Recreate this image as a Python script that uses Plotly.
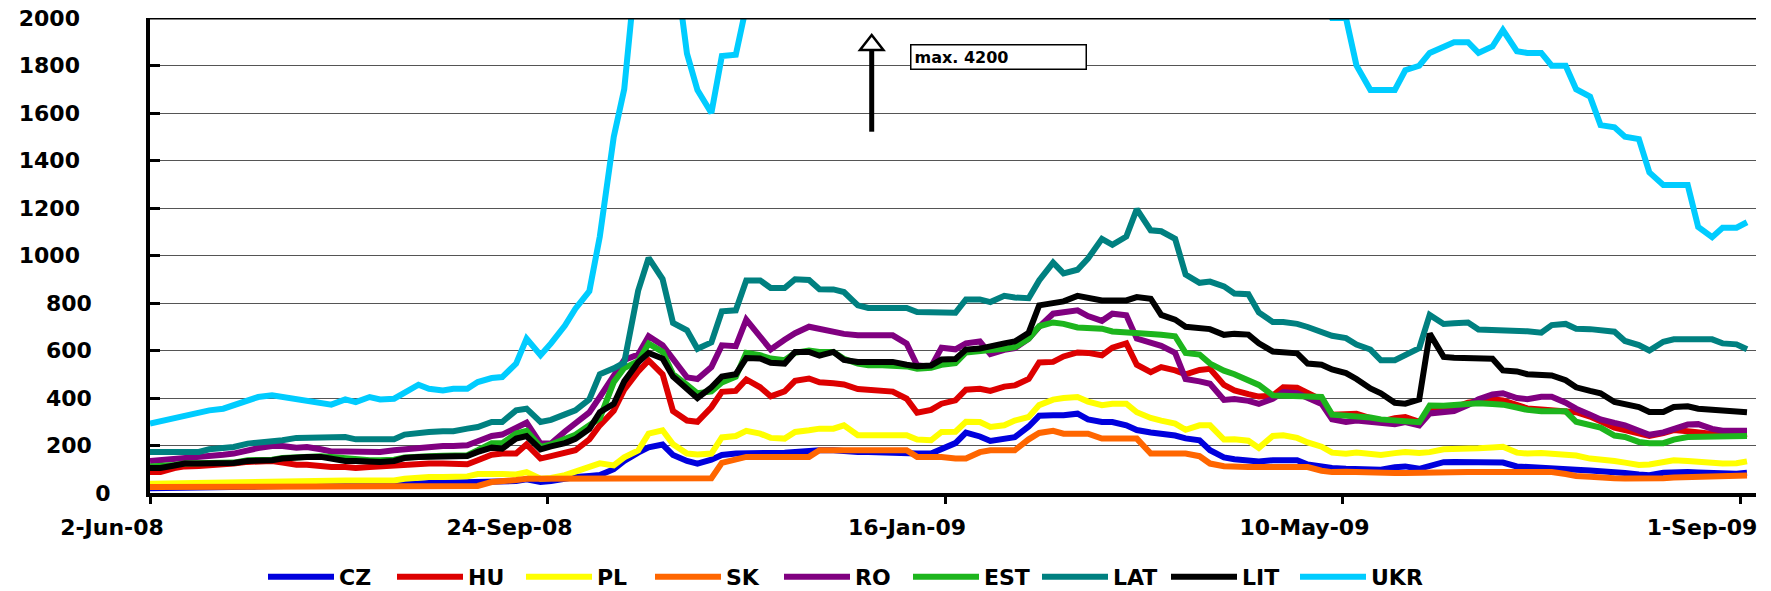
import plotly.graph_objects as go

FONT = "DejaVu Sans"

# Observation dates (Mondays and Thursdays)
dates = [
"2008-06-02","2008-06-05","2008-06-09","2008-06-12","2008-06-16","2008-06-19","2008-06-23","2008-06-26","2008-06-30","2008-07-03",
"2008-07-07","2008-07-10","2008-07-14","2008-07-17","2008-07-21","2008-07-24","2008-07-28","2008-07-31","2008-08-04","2008-08-07",
"2008-08-11","2008-08-14","2008-08-18","2008-08-21","2008-08-25","2008-08-28","2008-09-01","2008-09-04","2008-09-08","2008-09-11",
"2008-09-15","2008-09-18","2008-09-22","2008-09-25","2008-09-29","2008-10-02","2008-10-06","2008-10-09","2008-10-13","2008-10-16",
"2008-10-20","2008-10-23","2008-10-27","2008-10-30","2008-11-03","2008-11-06","2008-11-10","2008-11-13","2008-11-17","2008-11-20",
"2008-11-24","2008-11-27","2008-12-01","2008-12-04","2008-12-08","2008-12-11","2008-12-15","2008-12-18","2008-12-22","2008-12-25",
"2008-12-29","2009-01-01","2009-01-05","2009-01-08","2009-01-12","2009-01-15","2009-01-19","2009-01-22","2009-01-26","2009-01-29",
"2009-02-02","2009-02-05","2009-02-09","2009-02-12","2009-02-16","2009-02-19","2009-02-23","2009-02-26","2009-03-02","2009-03-05",
"2009-03-09","2009-03-12","2009-03-16","2009-03-19","2009-03-23","2009-03-26","2009-03-30","2009-04-02","2009-04-06","2009-04-09",
"2009-04-13","2009-04-16","2009-04-20","2009-04-23","2009-04-27","2009-04-30","2009-05-04","2009-05-07","2009-05-11","2009-05-14",
"2009-05-18","2009-05-21","2009-05-25","2009-05-28","2009-06-01","2009-06-04","2009-06-08","2009-06-11","2009-06-15","2009-06-18",
"2009-06-22","2009-06-25","2009-06-29","2009-07-02","2009-07-06","2009-07-09","2009-07-13","2009-07-16","2009-07-20","2009-07-23",
"2009-07-27","2009-07-30","2009-08-03","2009-08-06","2009-08-10","2009-08-13","2009-08-17","2009-08-20","2009-08-24","2009-08-27",
"2009-08-31","2009-09-03"]

CZ = [20,20, 22,22, 23,24, 25,25, 26,27,
      28,28, 29,30, 30,30, 31,31, 32,32,
      33,35, 40,42, 43,43, 44,44, 45,48,
      50,58, 46,50, 62,67, 72,76, 100,135,
      170,192, 204,160, 135,124, 140,160, 166,166,
      166,166, 170,173, 180,180, 180,176, 173,173,
      170,170, 166,166, 166,185, 210,254, 238,219,
      231,235, 280,325, 327,327, 334,310, 299,299,
      285,265, 255,250, 242,230, 222,180, 150,142,
      138,133, 138,138, 138,120, 110,105, 102,100,
      96,98, 108,112, 102,115, 130,131, 131,131,
      133,128, 112,110, 109,109, 104,98, 95,90,
      87,84, 78,75, 85,88, 88,86, 82,81,
      81,85]

HU = [88,88, 105,112, 114,116, 120,124, 131,135,
      135,128, 119,119, 112,109, 109,105, 109,112,
      116,119, 124,124, 124,124, 121,138, 161,166,
      166,205, 145,155, 168,180, 226,285, 346,435,
      512,558, 500,345, 305,300, 361,426, 430,478,
      445,407, 428,472, 482,466, 462,457, 438,434,
      430,427, 397,338, 350,376, 390,435, 439,430,
      448,453, 480,550, 552,575, 592,590, 580,612,
      630,540, 509,530, 516,500, 518,523, 455,432,
      416,406, 410,445, 443,420, 392,330, 330,334,
      315,300, 315,320, 300,345, 355,360, 380,385,
      395,390, 370,356, 352,350, 348,340, 322,300,
      275,265, 250,240, 252,265, 260,255, 245,244,
      243,248]

PL = [39,40, 41,42, 43,44, 45,46, 49,49,
      50,51, 52,52, 53,53, 53,53, 53,53,
      53,60, 66,67, 67,68, 70,80, 83,80,
      78,88, 60,63, 75,90, 115,125, 116,150,
      179,250, 264,205, 166,162, 166,234, 240,262,
      250,232, 229,257, 264,271, 271,285, 243,243,
      243,243, 243,225, 222,257, 258,300, 299,278,
      285,305, 320,370, 393,400, 404,385, 370,376,
      376,340, 316,305, 292,266, 285,285, 225,226,
      220,190, 240,243, 232,213, 195,170, 165,170,
      165,160, 168,173, 168,172, 184,184, 184,188,
      192,195, 170,166, 168,165, 160,158, 145,142,
      135,128, 118,120, 131,138, 135,130, 124,124,
      125,133]

SK = [25,25, 25,25, 25,25, 25,25, 25,25,
      25,25, 25,25, 25,25, 25,25, 25,25,
      25,25, 25,25, 25,25, 25,30, 46,48,
      55,60, 60,60, 60,60, 60,60, 60,60,
      60,60, 60,60, 60,60, 62,127, 140,152,
      152,152, 152,152, 152,180, 180,180, 180,180,
      180,180, 180,152, 152,152, 145,145, 172,180,
      180,180, 226,253, 262,250, 250,250, 229,229,
      229,229, 166,166, 166,166, 155,124, 113,109,
      109,109, 109,109, 109,109, 94,88, 90,88,
      84,82, 84,84, 86,86, 87,88, 88,88,
      88,88, 88,88, 88,88, 80,72, 68,64,
      62,61, 60,60, 62,65, 66,67, 70,70,
      72,74]

RO = [135,138, 145,149, 152,152, 161,166, 180,189,
      198,198, 191,194, 184,175, 175,175, 175,173,
      180,184, 194,198, 198,198, 201,218, 240,246,
      271,296, 208,208, 259,290, 339,404, 498,560,
      583,660, 622,566, 487,480, 530,622, 618,730,
      656,604, 645,673, 700,690, 680,670, 664,664,
      664,664, 629,538, 531,612, 605,630, 638,585,
      603,610, 650,700, 755,762, 769,745, 725,755,
      748,650, 632,620, 590,480, 470,460, 392,396,
      388,375, 397,425, 420,403, 375,310, 299,305,
      300,295, 290,299, 285,335, 344,345, 370,395,
      415,420, 400,395, 405,405, 380,355, 330,310,
      295,285, 262,245, 255,270, 288,290, 270,262,
      260,262]

EST = [112,112, 118,124, 124,124, 126,128, 138,138,
       140,147, 152,152, 155,152, 145,140, 138,138,
       140,150, 155,155, 157,157, 159,180, 210,210,
       250,262, 194,204, 225,245, 285,315, 467,526,
       555,629, 594,500, 455,420, 428,465, 490,590,
       580,566, 559,590, 600,594, 594,565, 545,538,
       538,538, 533,523, 527,540, 547,592, 601,602,
       607,614, 650,702, 718,712, 697,693, 692,680,
       674,672, 669,666, 660,590, 583,545, 515,500,
       478,455, 411,410, 406,404, 404,330, 327,325,
       318,310, 302,302, 298,368, 367,370, 378,378,
       375,372, 360,350, 344,344, 344,300, 285,275,
       242,236, 215,210, 210,225, 236,236, 236,237,
       238,240]

LAT = [173,173, 173,177, 173,184, 189,194, 208,212,
       212,222, 232,234, 236,236, 236,226, 226,226,
       226,246, 254,257, 260,260, 271,278, 299,299,
       348,355, 299,308, 331,348, 394,500, 525,549,
       852,990, 901,716, 685,607, 634,765, 769,895,
       895,863, 863,900, 897,858, 857,846, 790,779,
       779,779, 779,762, 760,760, 759,815, 815,804,
       830,823, 820,895, 970,925, 940,987, 1070,1045,
       1080,1195, 1106,1102, 1070,920, 885,890, 870,840,
       837,760, 720,720, 712,699, 676,662, 652,625,
       604,559, 559,580, 610,750, 712,715, 718,688,
       687,686, 685,681, 675,707, 712,692, 690,686,
       679,640, 623,600, 637,647, 647,647, 647,630,
       626,605]

LIT = [105,105, 116,124, 124,124, 124,126, 135,135,
       138,145, 152,152, 152,145, 135,135, 131,131,
       135,147, 152,152, 154,154, 156,173, 191,187,
       229,240, 184,196, 210,228, 270,340, 375,470,
       550,590, 566,490, 435,400, 445,490, 500,568,
       566,548, 545,594, 594,578, 594,560, 552,552,
       552,552, 540,534, 537,562, 564,604, 608,615,
       630,638, 675,790, 797,807, 830,823, 811,811,
       811,825, 818,750, 730,700, 695,690, 666,670,
       667,630, 596,593, 588,545, 540,520, 505,480,
       440,420, 380,376, 394,671, 573,570, 568,568,
       565,516, 512,500, 495,495, 475,445, 430,420,
       383,376, 362,341, 341,362, 365,355, 350,345,
       343,340]

UKR = [292,302, 320,327, 341,348, 355,369, 387,404,
       411,404, 394,386, 376,372, 394,383, 404,394,
       397,425, 456,439, 432,439, 439,467, 484,488,
       545,650, 580,630, 705,776, 850,1080, 1500,1700,
       2300,2200, 2400,2300, 1850,1697, 1600,1840, 1845,2050,
       2400,2600, 2800,3000, 2900,3100, 3200,3300, 3400,3500,
       3500,3400, 3300,3200, 3100,3200, 3400,3500, 3600,3800,
       3900,4000, 4100,4200, 4100,4000, 3900,3800, 3700,3600,
       3500,3400, 3300,3200, 3000,2900, 2800,2700, 2600,2500,
       2400,2300, 2300,2200, 2200,2150, 2100,2000, 2000,1800,
       1697,1697, 1697,1780, 1799,1853, 1880,1898, 1898,1853,
       1880,1949, 1860,1853, 1853,1799, 1799,1700, 1669,1549,
       1540,1500, 1490,1350, 1297,1297, 1297,1120, 1077,1117,
       1117,1140]

series_names = ["CZ", "HU", "PL", "SK", "RO", "EST", "LAT", "LIT", "UKR"]
series_values = [CZ, HU, PL, SK, RO, EST, LAT, LIT, UKR]
series_colors = ["#0000DD", "#DD0000", "#FFFF00", "#FF6600", "#800080",
                 "#1DB51D", "#008080", "#000000", "#00CCFF"]

x_tick_dates = ["2008-06-02", "2008-09-24", "2009-01-16", "2009-05-10", "2009-09-01"]
x_tick_text = ["2-Jun-08", "24-Sep-08", "16-Jan-09", "10-May-09", "1-Sep-09"]
y_tick_vals = [0, 200, 400, 600, 800, 1000, 1200, 1400, 1600, 1800, 2000]
y_tick_text = ["0", "200\u2002\u00a0", "400\u2002\u00a0", "600\u2002\u00a0", "800\u2002\u00a0",
               "1000\u00a0\u00a0\u00a0\u00a0", "1200\u00a0\u00a0\u00a0\u00a0", "1400\u00a0\u00a0\u00a0\u00a0",
               "1600\u00a0\u00a0\u00a0\u00a0", "1800\u00a0\u00a0\u00a0\u00a0", "2000\u00a0\u00a0\u00a0\u00a0"]

fig = go.Figure()
for name, vals, color in zip(series_names, series_values, series_colors):
    fig.add_trace(go.Scatter(x=dates, y=vals, name=name, mode="lines",
                             line=dict(color=color, width=6)))

bold = dict(family=FONT, size=22, color="black", weight="bold")
x_range = ["2008-06-02", "2009-09-05 14:00"]

W, H = 1771, 591
fig.update_layout(
    width=W, height=H, autosize=False,
    margin=dict(l=150, r=15, t=18, b=98, pad=0, autoexpand=False),
    paper_bgcolor="white", plot_bgcolor="white",
    font=bold,
    showlegend=True,
    legend=dict(orientation="h", xref="container", yref="container",
                x=263 / W, xanchor="left", y=1 - 577 / H, yanchor="middle",
                font=bold, itemwidth=66, entrywidth=48, entrywidthmode="pixels",
                traceorder="normal", bgcolor="rgba(0,0,0,0)"),
    xaxis=dict(type="date", range=x_range, tickvals=x_tick_dates, ticktext=x_tick_text,
               ticks="outside", ticklen=7, tickwidth=3, tickcolor="black",
               showline=True, linewidth=4, linecolor="black", showgrid=False, zeroline=False,
               tickfont=bold, ticklabelshift=-38, ticklabelstandoff=5,
               ticklabeloverflow="allow"),
    xaxis2=dict(type="date", range=x_range, overlaying="x", anchor="y", side="bottom",
                tickvals=x_tick_dates, ticks="inside", ticklen=8, tickwidth=3, tickcolor="black",
                showticklabels=False, showline=False, showgrid=False, zeroline=False),
    yaxis=dict(range=[0, 2000], tickvals=y_tick_vals, ticktext=y_tick_text,
               ticks="inside", ticklen=10, tickwidth=3, tickcolor="black",
               showline=True, linewidth=4, linecolor="black",
               showgrid=True, gridcolor="#555555", gridwidth=1, zeroline=False,
               tickfont=bold, ticklabelstandoff=31, ticklabeloverflow="allow"),
)

# top border of plot area
fig.add_shape(type="line", xref="paper", yref="y", x0=0, x1=1, y0=2000, y1=2000,
              line=dict(color="black", width=3), layer="above")

# arrow pointing up (max value marker)
xa = (871.7 - 150) / 1606
yb = (493 - 131.7) / 475
ybase = (493 - 50) / 475
ytop = (493 - 35) / 475
hw = 11.7 / 1606
fig.add_shape(type="line", xref="paper", yref="paper", x0=xa, x1=xa, y0=yb, y1=ybase,
              line=dict(color="black", width=5), layer="above")
fig.add_shape(type="path", xref="paper", yref="paper",
              path=f"M {xa-hw},{ybase} L {xa},{ytop} L {xa+hw},{ybase} Z",
              fillcolor="white", line=dict(color="black", width=2.5), layer="above")

fig.add_annotation(xref="paper", yref="paper", x=(910 - 150) / 1606, y=(493 - 56.5) / 475,
                   xanchor="left", yanchor="middle", text="max. 4200", showarrow=False,
                   font=dict(family=FONT, size=16, color="black", weight="bold"),
                   bgcolor="white", bordercolor="black", borderwidth=1.5, borderpad=3,
                   width=168, height=17, align="left")

fig.write_html("out.html", config={"displayModeBar": False},
               post_script="document.body.style.margin='0';document.body.style.overflow='hidden';")
